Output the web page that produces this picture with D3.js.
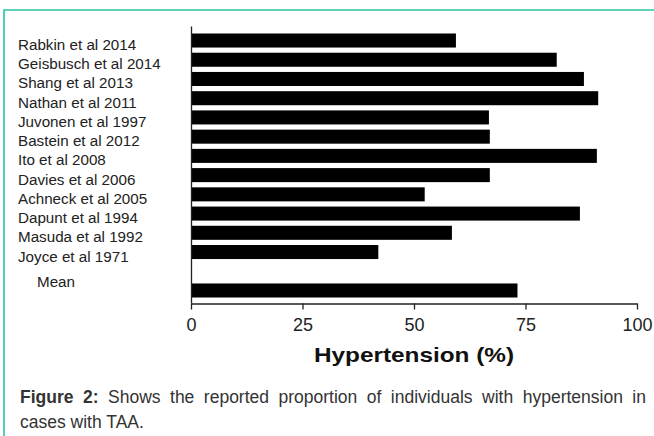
<!DOCTYPE html>
<html>
<head>
<meta charset="utf-8">
<script src="https://cdn.jsdelivr.net/npm/d3@7"></script>
<style>
  body { margin: 0; background: #fff; }
  svg { display: block; font-family: "Liberation Sans", Arial, sans-serif; }
</style>
</head>
<body>
<svg id="chart" width="654" height="436"></svg>
<script>
// studies, top to bottom
var studies = [
  "Rabkin et al 2014", "Geisbusch et al 2014", "Shang et al 2013",
  "Nathan et al 2011", "Juvonen et al 1997", "Bastein et al 2012",
  "Ito et al 2008", "Davies et al 2006", "Achneck et al 2005",
  "Dapunt et al 1994", "Masuda et al 1992", "Joyce et al 1971"
]
// reported proportion with hypertension (%)
var hypertension = [59.4, 82, 88.1, 91.3, 66.8, 67, 91, 67, 52.4, 87.2, 58.5, 42]
var meanLabel = "Mean"
var meanValue = 73.2
var xTicks = [0, 25, 50, 75, 100]
var xTitle = "Hypertension (%)"
var captionBold = "Figure 2:"
var captionLine1 = " Shows the reported proportion of individuals with hypertension in"
var captionLine2 = "cases with TAA."

var rows = studies.map((s, i) => ({label: s, value: hypertension[i]}))
rows.push({label: meanLabel, value: meanValue})

var svg = d3.select("#chart")

// frame
svg.append("path")
  .attr("d", "M654,10H4V436")
  .attr("fill", "none")
  .attr("stroke", "#2bc3a6")
  .attr("stroke-width", 1.6)

var x = d3.scaleLinear().domain([0, 100]).range([191, 637])

// one empty slot between the studies and the mean
var y = d3.scaleBand()
  .domain(studies.concat([" ", meanLabel]))
  .range([26, 303])
  .paddingInner(0.27)
  .paddingOuter(0.338)
  .align(0.577)

svg.append("g").selectAll("rect")
  .data(rows)
  .join("rect")
  .attr("x", x(0))
  .attr("y", d => y(d.label))
  .attr("width", d => x(d.value) - x(0))
  .attr("height", y.bandwidth())
  .attr("fill", "#000")

svg.append("g").selectAll("text")
  .data(rows)
  .join("text")
  .attr("x", d => d.label == meanLabel ? 37 : 18)
  .attr("y", d => d.label == meanLabel ? y(d.label) + 3.4 : y(d.label) + 16.5)
  .attr("font-size", 15.2)
  .attr("fill", "#222")
  .text(d => d.label)

// axes
var xAxis = svg.append("g")
  .attr("transform", "translate(0,303.5)")
  .call(d3.axisBottom(x).tickValues(xTicks).tickSize(6).tickSizeOuter(0).tickPadding(9))
xAxis.selectAll("path, line").attr("stroke", "#222").attr("stroke-width", 1.3)
xAxis.selectAll("text")
  .attr("font-family", "Liberation Sans, Arial, sans-serif")
  .attr("font-size", 18)
  .attr("fill", "#222")

var yAxis = svg.append("g")
  .attr("transform", `translate(${x(0)},0)`)
  .call(d3.axisLeft(y).tickValues([]).tickSizeOuter(0))
yAxis.select("path").attr("stroke", "#222").attr("stroke-width", 1.3)

// axis title, stretched wide like the original
svg.append("text")
  .attr("transform", `translate(${x(50)},362) scale(1.16,1)`)
  .attr("text-anchor", "middle")
  .attr("font-size", 21)
  .attr("font-weight", "bold")
  .attr("fill", "#111")
  .text(xTitle)

// caption, first line justified with word spacing
var cap = svg.append("text")
  .attr("x", 20)
  .attr("y", 403)
  .attr("font-size", 17.5)
  .attr("fill", "#333")
cap.append("tspan").attr("font-weight", "bold").text(captionBold)
cap.append("tspan").text(captionLine1)
var natural = cap.node().getComputedTextLength()
var gaps = (captionBold + captionLine1).split(" ").length - 1
cap.attr("word-spacing", Math.max(0, (626 - natural) / gaps))

svg.append("text")
  .attr("x", 20)
  .attr("y", 428)
  .attr("font-size", 17.5)
  .attr("fill", "#333")
  .text(captionLine2)
</script>
</body>
</html>
